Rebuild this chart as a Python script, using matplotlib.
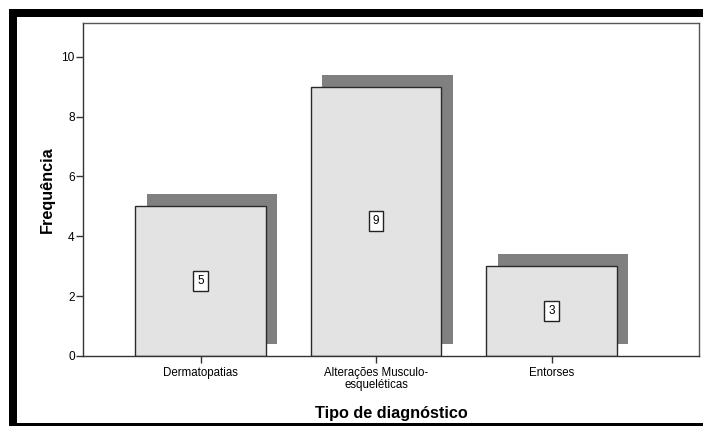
import matplotlib
matplotlib.use("Agg")
import matplotlib.pyplot as plt
from matplotlib.patches import Rectangle
import numpy as np

plt.rcParams['font.family'] = ['Liberation Sans', 'DejaVu Sans']

categories = ["Dermatopatias", "Alterações Musculo-\nesqueléticas", "Entorses"]
counts = [5, 9, 3]
yticks = [0, 2, 4, 6, 8, 10]

W, H = 703, 426
fig = plt.figure(figsize=(W / 100, H / 100), dpi=100)

def px_rect(x0, y0, x1, y1, **kw):
    # rectangle given in pixel coordinates from the top-left corner
    return Rectangle((x0 / W, 1 - y1 / H), (x1 - x0) / W, (y1 - y0) / H,
                     transform=fig.transFigure, **kw)

# heavy black frame around the chart area
for r in [(9, 9, W, 17), (9, 9, 17, H), (9, 423, W, H)]:
    fig.patches.append(px_rect(*r, facecolor="black", edgecolor="none", zorder=0))

ax = fig.add_axes([83 / W, 1 - 356 / H, (699 - 83) / W, (356 - 23) / H])
x = np.arange(len(categories))
bar_w = 0.745
dx, dy = 0.065, 0.4

# drop shadow behind each bar
ax.bar(x + dx, counts, width=bar_w, bottom=dy, color="#808080",
       edgecolor="none", zorder=1)
bars = ax.bar(x, counts, width=bar_w, color="#e3e3e3", edgecolor="#2a2a2a",
              linewidth=1.0, zorder=2)

for xi, v in zip(x, counts):
    ax.text(xi, v / 2, str(v), ha="center", va="center", fontsize=8.5,
            zorder=3,
            bbox=dict(boxstyle="square,pad=0.33", facecolor="white",
                      edgecolor="#222222", linewidth=1.0))

ax.set_xlim(-0.67, 2.84)
ax.set_ylim(0, 11.13)
ax.set_yticks(yticks)
ax.set_xticks(x)
ax.set_xticklabels(categories, fontsize=8.3, linespacing=0.95)
ax.tick_params(axis="y", labelsize=8.6, length=5, width=1, color="#333333",
               pad=1)
ax.tick_params(axis="x", length=5, width=1, color="#333333", pad=3)

for side in ["left", "bottom"]:
    ax.spines[side].set_color("#333333")
    ax.spines[side].set_linewidth(1.0)
for side in ["top", "right"]:
    ax.spines[side].set_color("#555555")
    ax.spines[side].set_linewidth(1.0)

ax.set_ylabel("Frequência", fontsize=11.7, fontweight="bold", labelpad=5)
ax.set_xlabel("Tipo de diagnóstico", fontsize=11.7, fontweight="bold",
              labelpad=11)

fig.savefig("out.png", dpi=100)
